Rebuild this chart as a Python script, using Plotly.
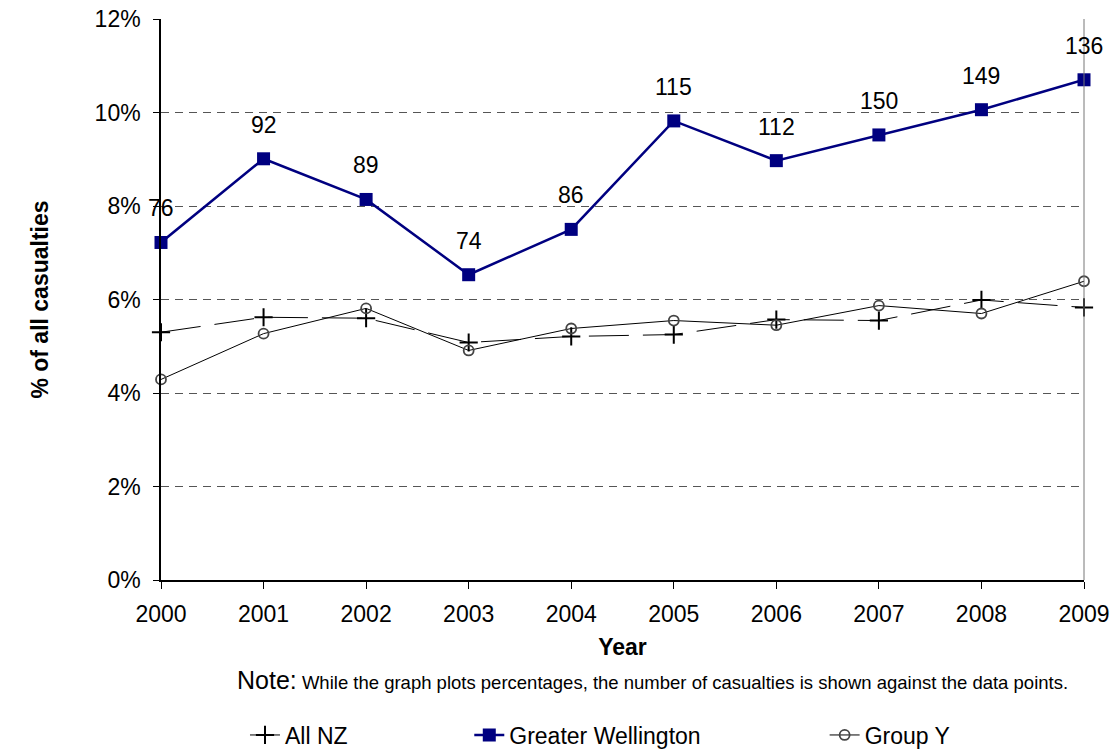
import plotly.graph_objects as go

NAVY = "#000080"
GRID = "#555555"
FONT = "Liberation Sans, Arial, sans-serif"

YEARS = [2000, 2001, 2002, 2003, 2004, 2005, 2006, 2007, 2008, 2009]
ALL_NZ = [5.30, 5.62, 5.60, 5.08, 5.21, 5.25, 5.57, 5.55, 5.99, 5.83]
WELLINGTON = [7.22, 9.01, 8.14, 6.53, 7.50, 9.82, 8.97, 9.52, 10.06, 10.70]
GROUP_Y = [4.29, 5.27, 5.81, 4.91, 5.38, 5.55, 5.45, 5.87, 5.70, 6.39]
CASUALTIES = [76, 92, 89, 74, 86, 115, 112, 150, 149, 136]
Y_TICKS = [0, 2, 4, 6, 8, 10, 12]

fig = go.Figure()
fig.add_trace(
    go.Scatter(
        x=YEARS, y=ALL_NZ, name="All NZ", mode="lines+markers", legend="legend",
        line=dict(color="black", width=1, dash="40px,14px"),
        marker=dict(symbol="cross-thin", size=13, line=dict(color="black", width=2)),
        cliponaxis=False,
    )
)
fig.add_trace(
    go.Scatter(
        x=YEARS, y=WELLINGTON, name="Greater Wellington", mode="lines+markers", legend="legend2",
        line=dict(color=NAVY, width=2.5),
        marker=dict(symbol="square", size=13, color=NAVY),
        cliponaxis=False,
    )
)
fig.add_trace(
    go.Scatter(
        x=YEARS, y=GROUP_Y, name="Group Y", mode="lines+markers", legend="legend3",
        line=dict(color="black", width=1),
        marker=dict(symbol="circle-open", size=10, color="#444444", line=dict(width=1.8)),
        cliponaxis=False,
    )
)

for year, value, count in zip(YEARS, WELLINGTON, CASUALTIES):
    fig.add_annotation(
        x=year, y=value, text=str(count), showarrow=False, yshift=34,
        font=dict(size=23, color="black"),
    )

fig.add_annotation(
    xref="paper", yref="paper", x=0.532, y=-0.178, yanchor="middle", showarrow=False,
    text="<span style='font-size:25px'>Note:</span> While the graph plots percentages, "
    "the number of casualties is shown against the data points.",
    font=dict(size=18.5, color="black"),
)

legend_style = dict(
    orientation="h", xanchor="left", y=-0.2763, yanchor="middle",
    font=dict(size=23), bgcolor="rgba(0,0,0,0)",
)
fig.update_layout(
    width=1115,
    height=751,
    margin=dict(l=161, r=31, t=19, b=171, autoexpand=False),
    paper_bgcolor="white",
    plot_bgcolor="white",
    font=dict(family=FONT, color="black", size=23),
    showlegend=True,
    legend=dict(x=0.091, **legend_style),
    legend2=dict(x=0.334, **legend_style),
    legend3=dict(x=0.719, **legend_style),
)
fig.update_xaxes(
    range=[2000, 2009], tickvals=YEARS, ticks="outside", ticklen=7, tickcolor="black",
    showline=True, linecolor="black", linewidth=1.5, showgrid=False, zeroline=False,
    title=dict(text="<b>Year</b>", standoff=13, font=dict(size=23)),
    tickfont=dict(size=23), ticklabelstandoff=6, automargin=False,
)
fig.update_yaxes(
    range=[0, 12], tickvals=Y_TICKS, ticktext=[f"{v}%" for v in Y_TICKS],
    ticks="outside", ticklen=6, tickcolor="black",
    showline=True, linecolor="black", linewidth=1.5, zeroline=False,
    showgrid=True, gridcolor=GRID, gridwidth=1, griddash="8px,6px",
    title=dict(text="<b>% of all casualties</b>", standoff=40, font=dict(size=23)),
    tickfont=dict(size=23), ticklabelstandoff=8, automargin=False,
)
fig.add_shape(
    type="line", xref="paper", yref="paper", x0=1, x1=1, y0=0, y1=1,
    line=dict(color="#777777", width=1),
)

# the page has a default 8px body margin; drop it so the figure fills the window
fig.write_html(
    "out.html",
    config={"displayModeBar": False},
    post_script="document.body.style.margin='0';",
)
